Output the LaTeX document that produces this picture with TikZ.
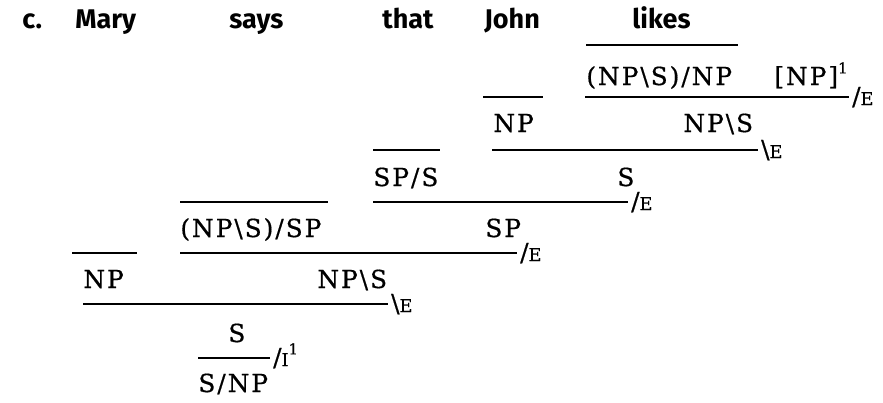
\documentclass[tikz,border=0pt]{standalone}
\usepackage{fontspec}
\usepackage{tikz}
\newfontfamily\wordfont{Fira Sans}
\newfontfamily\formfont{DejaVu Serif}[LetterSpace=8, FakeBold=0.6]
\newfontfamily\labfont{DejaVu Serif}[FakeBold=0.6]
\newcommand{\bsl}{\textbackslash}
\newcommand{\rl}[1]{{\fontsize{8.8}{9}\selectfont #1}}
\newcommand{\hypidx}[1]{\raisebox{0.9ex}{\fontsize{7.5}{8}\selectfont\labfont #1}}

\tikzset{
  word/.style={font=\wordfont\bfseries\fontsize{13.5}{14}\selectfont, inner sep=0pt, anchor=base west},
  form/.style={font=\formfont\fontsize{12.4}{14}\selectfont, inner sep=0pt, anchor=base west},
  rule/.style={line width=1.2pt},
  rulelab/.style={font=\labfont\fontsize{12.4}{14}\selectfont, inner sep=0pt, anchor=base west, yshift=-4pt, xshift=1pt}
}

\begin{document}
\begin{tikzpicture}[x=0.5pt, y=-0.5pt]
  \useasboundingbox (0,0) rectangle (883,402);

  % the sentence
  \node[word] (ex)    at (22, 28)  {c.};
  \node[word] (mary)  at (75, 28)  {Mary};
  \node[word] (says)  at (229, 28) {says};
  \node[word] (that)  at (382, 28) {that};
  \node[word] (john)  at (484, 28) {John};
  \node[word] (likes) at (632, 28) {likes};

  % likes [NP]^1
  \draw[rule] (586, 45) -- (738, 45);
  \node[form] (tv)  at (586, 85) {(NP\bsl S)/NP};
  \node[form] (hyp) at (774, 85) {[NP]\hypidx{1}};
  \draw[rule] (585, 97) -- (849, 97) node[rulelab] (e1) {/\rl{E}};

  % John likes
  \draw[rule] (483, 97) -- (543, 97);
  \node[form] (np1) at (493, 132) {NP};
  \node[form] (vp1) at (683, 132) {NP\bsl S};
  \draw[rule] (492, 150) -- (758, 150) node[rulelab] (e2) {\bsl\rl{E}};

  % that
  \draw[rule] (373, 150) -- (440, 150);
  \node[form] (comp) at (373, 186) {SP/S};
  \node[form] (s1)   at (617, 186) {S};
  \draw[rule] (373, 202) -- (628, 202) node[rulelab] (e3) {/\rl{E}};

  % says
  \draw[rule] (180, 202) -- (328, 202);
  \node[form] (sv) at (180, 237) {(NP\bsl S)/SP};
  \node[form] (sp) at (485, 237) {SP};
  \draw[rule] (180, 253) -- (517, 253) node[rulelab] (e4) {/\rl{E}};

  % Mary
  \draw[rule] (72, 253) -- (137, 253);
  \node[form] (np2) at (83, 288)  {NP};
  \node[form] (vp2) at (317, 288) {NP\bsl S};
  \draw[rule] (83, 304) -- (388, 304) node[rulelab] (e5) {\bsl\rl{E}};

  % discharge
  \node[form] (s2) at (228, 342) {S};
  \draw[rule] (198, 358) -- (270, 358) node[rulelab] (i1) {/\rl{I}\hypidx{1}};
  \node[form] (res) at (198, 392) {S/NP};
\end{tikzpicture}
\end{document}
